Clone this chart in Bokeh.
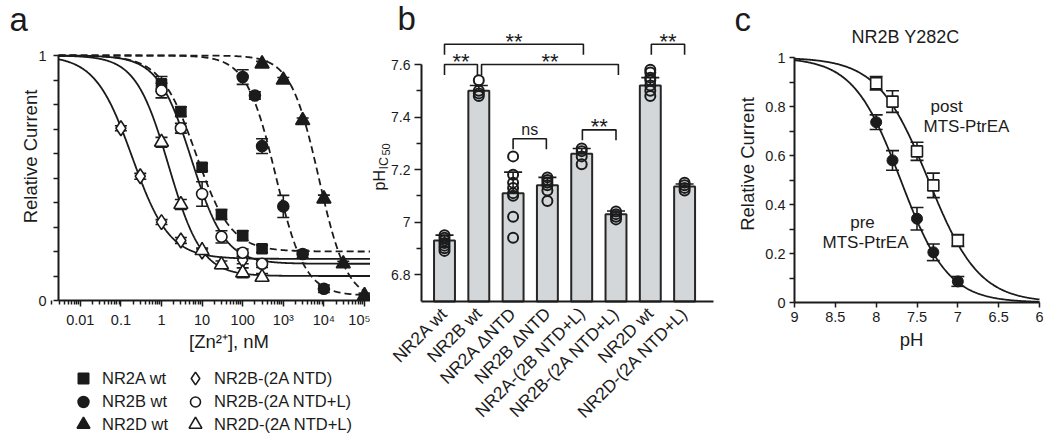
import math
import numpy as np
from bokeh.plotting import figure
from bokeh.layouts import row
from bokeh.models import (Range1d, FixedTicker, Whisker, TeeHead, ColumnDataSource,
                          Label, Legend, LegendItem)
from bokeh.embed import file_html
from bokeh.resources import INLINE
from bokeh.core.properties import value

FONT = "Liberation Sans"
INK = "#1b1b1b"

# ---------------- Panel a data: Zn2+ inhibition ----------------
a_names = ["NR2A wt", "NR2B wt", "NR2D wt",
           "NR2B-(2A NTD)", "NR2B-(2A NTD+L)", "NR2D-(2A NTD+L)"]
a_x_2A = [1, 3, 10, 30, 100, 300]
a_y_2A = [0.884, 0.771, 0.544, 0.351, 0.265, 0.211]
a_e_2A = [0.030, 0.020, 0.015, 0.020, 0.020, 0.015]
a_x_2B = [100, 200, 300, 1000, 3000, 10000]
a_y_2B = [0.912, 0.837, 0.630, 0.384, 0.190, 0.048]
a_e_2B = [0.030, 0.015, 0.030, 0.045, 0.015, 0.015]
a_x_2D = [300, 1000, 3000, 10000, 30000, 100000]
a_y_2D = [0.966, 0.900, 0.735, 0.415, 0.150, 0.020]
a_e_2D = [0.010, 0.010, 0.010, 0.015, 0.010, 0.010]
a_x_2Bc = [0.1, 0.3, 1, 3, 10, 100]
a_y_2Bc = [0.703, 0.507, 0.320, 0.245, 0.200, 0.165]
a_e_2Bc = [0.010, 0.012, 0.010, 0.012, 0.010, 0.015]
a_x_2BL = [1, 3, 10, 30, 100, 300]
a_y_2BL = [0.857, 0.703, 0.435, 0.260, 0.195, 0.150]
a_e_2BL = [0.030, 0.020, 0.050, 0.025, 0.015, 0.015]
a_x_2DL = [1, 3, 10, 30, 100, 300]
a_y_2DL = [0.646, 0.392, 0.204, 0.146, 0.113, 0.095]
a_e_2DL = [0.020, 0.020, 0.010, 0.015, 0.020, 0.015]
# Hill-fit parameters (same order as a_names)
a_ic50 = [7.0, 650.0, 7500.0, 0.19, 5.5, 1.5]
a_hill = [1.0, 1.2, 1.25, 0.95, 1.05, 1.07]
a_bottom = [0.20, 0.02, 0.0, 0.17, 0.15, 0.10]
a_xtick_vals = [0.01, 0.1, 1, 10, 100, 1000, 10000, 100000]
a_xtick_text = ["0.01", "0.1", "1", "10", "100", "10³", "10⁴", "10⁵"]

# ---------------- Panel b data: pH IC50 ----------------
b_labels = ["NR2A wt", "NR2B wt", "NR2A ΔNTD", "NR2B ΔNTD",
            "NR2A-(2B NTD+L)", "NR2B-(2A NTD+L)", "NR2D wt", "NR2D-(2A NTD+L)"]
b_mean = [6.93, 7.50, 7.11, 7.14, 7.26, 7.03, 7.52, 7.135]
b_sem = [0.02, 0.02, 0.08, 0.03, 0.02, 0.012, 0.03, 0.01]
b_points = [
    [6.95, 6.94, 6.93, 6.92, 6.91, 6.90, 6.89],
    [7.54, 7.50, 7.49, 7.48],
    [7.25, 7.18, 7.15, 7.13, 7.11, 7.10, 7.02, 6.94],
    [7.17, 7.16, 7.15, 7.14, 7.12, 7.08],
    [7.28, 7.27, 7.25, 7.22],
    [7.04, 7.03, 7.02, 7.01],
    [7.58, 7.57, 7.55, 7.54, 7.52, 7.50, 7.48],
    [7.15, 7.14, 7.13, 7.12],
]
b_ytick_vals = [6.8, 7.0, 7.2, 7.4, 7.6]
b_ytick_text = ["6.8", "7", "7.2", "7.4", "7.6"]
# significance brackets
b_sig_left = [0, 0, 1.08, 2, 4.02, 6.03]
b_sig_right = [0.96, 4.05, 5.07, 2.97, 5.0, 7.0]
b_sig_level = [7.60, 7.677, 7.60, 7.317, 7.351, 7.677]
b_sig_text = ["**", "**", "**", "ns", "**", "**"]

# ---------------- Panel c data: NR2B Y282C ----------------
c_ph = [8.0, 7.8, 7.5, 7.3, 7.0]
c_pre = [0.736, 0.580, 0.342, 0.205, 0.086]
c_pre_err = [0.030, 0.040, 0.046, 0.034, 0.020]
c_post = [0.895, 0.820, 0.617, 0.478, 0.253]
c_post_err = [0.027, 0.044, 0.037, 0.050, 0.024]
c_pic50 = [7.70, 7.36]   # pre, post
c_hill = [1.5, 1.4]
c_xtick_vals = [9, 8.5, 8, 7.5, 7, 6.5, 6]
c_xtick_text = ["9", "8.5", "8", "7.5", "7", "6.5", "6"]
c_ytick_vals = [0, 0.2, 0.4, 0.6, 0.8, 1]
c_ytick_text = ["0", "0.2", "0.4", "0.6", "0.8", "1"]

# ---------------- layout geometry (page pixels) ----------------
H = 436
A_L, A_R = 0, 370
B_L, B_R = 370, 720
C_L, C_R = 720, 1048
BASE_SHIFT = 0.37   # baseline correction (fraction of font size)


def ax_(px):
    return 10 ** ((px - 161.0) / 40.6)


def ay_(py):
    return (300.0 - py) / 245.0


def bx_(px):
    return (px - 444.0) / 34.3


def by_(py):
    return 7.6 - (py - 64.0) / 262.5


def cx_(px):
    return 9.0 - (px - 794.0) / 81.667


def cy_(py):
    return (302.0 - py) / 245.0


def base_fig(w, xr, yr, **kw):
    p = figure(width=w, height=H, x_range=xr, y_range=yr, output_backend="svg",
               toolbar_location=None, title=None, min_border=0,
               min_border_left=0, min_border_right=0, min_border_top=0,
               min_border_bottom=0, background_fill_color="white",
               border_fill_color="white", **kw)
    p.xgrid.grid_line_color = None
    p.ygrid.grid_line_color = None
    p.outline_line_color = None
    return p


def style_axes(p, tick_font="14.5px"):
    for ax in list(p.xaxis) + list(p.yaxis):
        ax.axis_line_width = 2
        ax.axis_line_color = INK
        ax.major_tick_line_width = 1.5
        ax.minor_tick_line_width = 1.5
        ax.major_tick_line_color = INK
        ax.minor_tick_line_color = INK
        ax.major_tick_in = 0
        ax.minor_tick_in = 0
        ax.major_tick_out = 6
        ax.minor_tick_out = 4
        ax.major_label_text_font = FONT
        ax.major_label_text_font_size = tick_font
        ax.major_label_text_color = INK


def add_whisker(p, xs, ys, es, head, upper_only=False):
    src = ColumnDataSource(dict(
        base=list(xs),
        upper=[y + e for y, e in zip(ys, es)],
        lower=list(ys) if upper_only else [y - e for y, e in zip(ys, es)]))
    w = Whisker(source=src, base="base", upper="upper", lower="lower",
                dimension="height", line_color=INK, line_width=1.6,
                upper_head=TeeHead(size=head, line_color=INK, line_width=1.6),
                lower_head=None if upper_only else TeeHead(size=head, line_color=INK, line_width=1.6),
                level="underlay")
    p.add_layout(w)


def text(p, fx, fy, px, py, s, fs, align="left", vertical=False):
    """Place text with its baseline at page pixel (px, py)."""
    if vertical:
        x, y, ang = fx(px - BASE_SHIFT * fs), fy(py), math.pi / 2
    else:
        x, y, ang = fx(px), fy(py - BASE_SHIFT * fs), 0.0
    p.add_layout(Label(x=x, y=y, text=s, angle=ang, text_font=FONT,
                       text_font_size=f"{fs}px", text_color=INK, text_align=align,
                       text_baseline="alphabetic"))


# =========================== Panel a ===========================
pa = base_fig(A_R - A_L, Range1d(ax_(A_L), ax_(A_R)), Range1d(ay_(H), ay_(0)),
              x_axis_type="log")

a_axis_x = ax_(58)
xs_fit = np.logspace(math.log10(a_axis_x), math.log10(ax_(A_R)), 500)
dashed = [True, True, True, False, False, False]
for ic, nh, bt, dsh in zip(a_ic50, a_hill, a_bottom, dashed):
    yfit = bt + (1 - bt) / (1 + (xs_fit / ic) ** nh)
    pa.line(xs_fit, yfit, line_color=INK, line_width=1.8,
            line_dash="7 4" if dsh else "solid")

series = [
    (a_x_2A, a_y_2A, a_e_2A, "square", INK, 10),
    (a_x_2B, a_y_2B, a_e_2B, "circle", INK, 11),
    (a_x_2D, a_y_2D, a_e_2D, "triangle", INK, 14),
    (a_x_2Bc, a_y_2Bc, a_e_2Bc, "diamond", "white", 15),
    (a_x_2BL, a_y_2BL, a_e_2BL, "circle", "white", 11),
    (a_x_2DL, a_y_2DL, a_e_2DL, "triangle", "white", 14),
]
renderers = []
for xs, ys, es, mk, fc, sz in series:
    add_whisker(pa, xs, ys, es, 12)
for xs, ys, es, mk, fc, sz in series:
    r = pa.scatter(xs, ys, marker=mk, size=sz, fill_color=fc,
                   line_color=INK, line_width=1.6)
    renderers.append(r)

pa.xaxis.ticker = FixedTicker(
    ticks=a_xtick_vals,
    minor_ticks=[m * 10.0 ** d for d in range(-3, 5) for m in range(2, 10)])
pa.xaxis.major_label_overrides = {v: t for v, t in zip(a_xtick_vals, a_xtick_text)}
pa.xaxis.fixed_location = 0
pa.xaxis.bounds = (a_axis_x, ax_(A_R))
pa.yaxis.ticker = FixedTicker(ticks=[0, 1],
                              minor_ticks=[0.1, 0.2, 0.3, 0.4, 0.5, 0.6, 0.7, 0.8, 0.9])
pa.yaxis.fixed_location = a_axis_x
pa.yaxis.bounds = (0, 1)
style_axes(pa)
pa.yaxis.major_tick_out = 5
pa.yaxis.minor_tick_out = 5
pa.yaxis.major_label_standoff = 7
pa.xaxis.major_label_standoff = 5

text(pa, ax_, ay_, 36.5, 156, "Relative Current", 18.5, "center", vertical=True)
text(pa, ax_, ay_, 228.5, 348, "[Zn²⁺], nM", 18.5, "center")
text(pa, ax_, ay_, 9, 31, "a", 33)

# legend: one single-item legend per entry so each key keeps its own size
leg_rows = [378, 401, 424]
leg_cols = [83, 195]
leg_key_h = [26, 27, 32, 32, 25, 32]
for i, name in enumerate(a_names):
    col, rw = divmod(i, 3)
    gh = leg_key_h[i]
    pa.add_layout(Legend(
        items=[LegendItem(label=name, renderers=[renderers[i]])],
        location=(leg_cols[col] - 16, H - (leg_rows[rw] + gh / 2)),
        orientation="vertical", glyph_width=32, glyph_height=gh,
        label_standoff=3, padding=0, margin=0, spacing=0,
        border_line_color=None, background_fill_alpha=0,
        label_text_font=FONT, label_text_font_size="16.5px",
        label_text_color=INK, label_height=gh))

# =========================== Panel b ===========================
b_idx = list(range(len(b_labels)))
b_axis_y = by_(301)
b_axis_x = bx_(421)
pb = base_fig(B_R - B_L, Range1d(bx_(B_L), bx_(B_R)), Range1d(by_(H), by_(0)))
add_whisker(pb, b_idx, b_mean, b_sem, 18, upper_only=True)
pb.vbar(x=b_idx, top=b_mean, bottom=b_axis_y, width=0.61,
        fill_color="#d3d7d9", line_color="#262626", line_width=2)
px = [i for i, vals in enumerate(b_points) for _ in vals]
py = [v for vals in b_points for v in vals]
pb.scatter(px, py, marker="circle", size=10, fill_color=None,
           line_color=INK, line_width=2)

drop = 0.04
pb.multi_line(xs=[[l, l, r, r] for l, r in zip(b_sig_left, b_sig_right)],
              ys=[[h - drop, h, h, h - drop] for h in b_sig_level],
              line_color=INK, line_width=1.6)
star_i = [i for i, t in enumerate(b_sig_text) if t == "**"]
ns_i = [i for i, t in enumerate(b_sig_text) if t != "**"]
pb.text(x=[(b_sig_left[i] + b_sig_right[i]) / 2 for i in star_i],
        y=[b_sig_level[i] for i in star_i],
        text=[b_sig_text[i] for i in star_i], y_offset=-3,
        text_align="center", text_baseline="alphabetic",
        text_font=value(FONT), text_font_size=value("22px"), text_color=INK)
pb.text(x=[(b_sig_left[i] + b_sig_right[i]) / 2 for i in ns_i],
        y=[b_sig_level[i] for i in ns_i],
        text=[b_sig_text[i] for i in ns_i], y_offset=-9,
        text_align="center", text_baseline="alphabetic",
        text_font=value(FONT), text_font_size=value("16px"), text_color=INK)

pb.xaxis.ticker = FixedTicker(ticks=b_idx)
pb.xaxis.major_label_overrides = {i: t for i, t in enumerate(b_labels)}
pb.xaxis.major_label_orientation = math.pi / 4
pb.xaxis.fixed_location = b_axis_y
pb.xaxis.bounds = (b_axis_x, bx_(713))
pb.yaxis.ticker = FixedTicker(ticks=b_ytick_vals, minor_ticks=[6.9, 7.1, 7.3, 7.5])
pb.yaxis.major_label_overrides = {v: t for v, t in zip(b_ytick_vals, b_ytick_text)}
pb.yaxis.fixed_location = b_axis_x
pb.yaxis.bounds = (b_axis_y, 7.6)
style_axes(pb, tick_font="14px")
pb.xaxis.major_tick_line_color = None
pb.xaxis.major_label_text_font_size = "17.5px"
pb.xaxis.major_label_standoff = 3
pb.yaxis.major_tick_out = 7
pb.yaxis.minor_tick_out = 5
pb.yaxis.major_label_standoff = 4

text(pb, bx_, by_, 385, 190, "pH", 16, "left", vertical=True)
text(pb, bx_, by_, 388, 169, "IC", 12.5, "left", vertical=True)
text(pb, bx_, by_, 390, 155, "50", 11, "left", vertical=True)
text(pb, bx_, by_, 397, 30, "b", 33)

# =========================== Panel c ===========================
pc = base_fig(C_R - C_L, Range1d(cx_(C_L), cx_(C_R)), Range1d(cy_(H), cy_(0)))
ph_fit = np.linspace(9, 6, 300)
for pic, nh in zip(c_pic50, c_hill):
    pc.line(ph_fit, 1 / (1 + 10 ** (nh * (pic - ph_fit))), line_color=INK, line_width=1.8)
add_whisker(pc, c_ph, c_pre, c_pre_err, 13)
add_whisker(pc, c_ph, c_post, c_post_err, 13)
pc.scatter(c_ph, c_pre, marker="circle", size=11, fill_color=INK, line_color=INK)
pc.scatter(c_ph, c_post, marker="square", size=11, fill_color="white",
           line_color=INK, line_width=1.6)

pc.xaxis.ticker = FixedTicker(ticks=c_xtick_vals)
pc.xaxis.major_label_overrides = {v: t for v, t in zip(c_xtick_vals, c_xtick_text)}
pc.xaxis.fixed_location = 0
pc.xaxis.bounds = (6, 9)
pc.yaxis.ticker = FixedTicker(ticks=c_ytick_vals,
                              minor_ticks=[0.1, 0.3, 0.5, 0.7, 0.9])
pc.yaxis.major_label_overrides = {v: t for v, t in zip(c_ytick_vals, c_ytick_text)}
pc.yaxis.fixed_location = 9
pc.yaxis.bounds = (0, 1)
style_axes(pc)
pc.xaxis.major_tick_out = 5
pc.yaxis.major_tick_out = 5
pc.yaxis.minor_tick_out = 5
pc.xaxis.major_label_standoff = 4
pc.yaxis.major_label_standoff = 4

text(pc, cx_, cy_, 905, 43, "NR2B Y282C", 18, "center")
text(pc, cx_, cy_, 930, 112, "post", 17)
text(pc, cx_, cy_, 923, 132, "MTS-PtrEA", 17)
text(pc, cx_, cy_, 862, 228, "pre", 17, "center")
text(pc, cx_, cy_, 865, 248, "MTS-PtrEA", 17, "center")
text(pc, cx_, cy_, 753.5, 163.5, "Relative Current", 18.5, "center", vertical=True)
text(pc, cx_, cy_, 911, 346, "pH", 18.5, "center")
text(pc, cx_, cy_, 734, 31, "c", 33)

layout = row(pa, pb, pc)
open("out.html", "w").write(file_html(layout, INLINE))
